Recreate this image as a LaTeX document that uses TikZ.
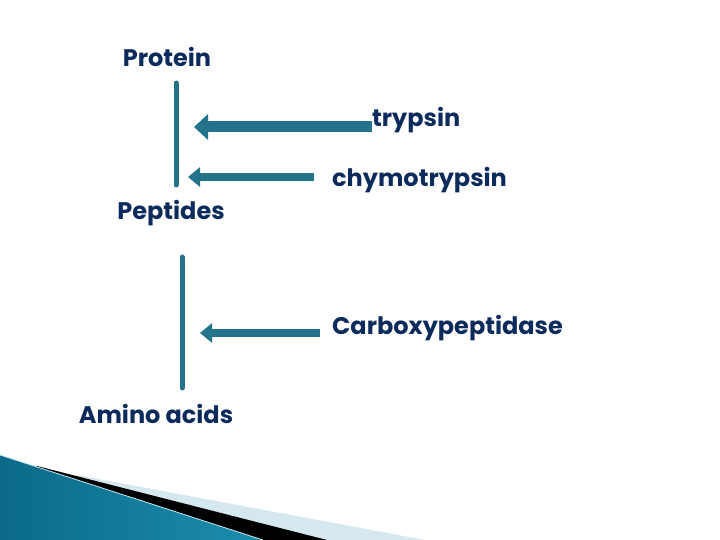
\documentclass[tikz,border=0pt]{standalone}
\usepackage{fontspec}
\setmainfont{Poppins}[Ligatures=NoCommon]
\usepackage{xcolor}
\usepackage{tikz}
\usetikzlibrary{arrows.meta}

\definecolor{textnavy}{HTML}{0C2A5C}
\definecolor{arrowteal}{HTML}{23738A}
\definecolor{bandblue}{HTML}{D6E8EF}
\definecolor{shadeleft}{HTML}{0B6A88}
\definecolor{shademid}{HTML}{45ADCD}
\definecolor{shaderight}{HTML}{1C8DAE}

\begin{document}
\begin{tikzpicture}[x=1pt,y=-1pt,
	word/.style={font=\fontsize{24}{28}\selectfont\bfseries,text=textnavy,inner sep=0pt},
	stem/.style={draw=arrowteal,line width=5pt,line cap=round},
	bigarrow/.style={draw=arrowteal,line width=11pt,-{Triangle[length=14pt,width=25pt]}},
	smallarrow/.style={draw=arrowteal,line width=8.5pt,-{Triangle[length=12pt,width=19pt]}}
	]
		\useasboundingbox (0,0) rectangle (720,540);
		% corner decoration
		\fill[bandblue] (77,475) -- (425,540) -- (0,540) -- cycle;
		\fill[black] (37,466) -- (327,540) -- (0,540) -- cycle;
		\shade[left color=shadeleft,middle color=shademid,right color=shaderight] (0,455) -- (263,540) -- (0,540) -- cycle;
		\draw[white!70!shademid,line width=0.8pt] (0,455) -- (263,540);
		%
		\node[word] (P) at (167,57) {Protein};
		\node[word] (Pep) at (171,213) {Peptides};
		\node[word] (AA) at (156,414) {Amino acids};
		\node[word,anchor=west] (T) at (372,120) {trypsin};
		\node[word,anchor=west] (Ch) at (332,180) {chymotrypsin};
		\node[word,anchor=west] (Cb) at (332,328) {Carboxypeptidase};
		%
		\coordinate (s1) at (176,83);
		\coordinate (s1') at (176,185);
		\coordinate (s2) at (182,257);
		\coordinate (s2') at (182,388);
		\coordinate (t) at (194,127);
		\coordinate (c) at (188,177);
		\coordinate (c') at (314,177);
		\coordinate (b) at (200,333);
		\coordinate (b') at (320,333);
		%
		\path
		% vertical lines
		(s1) edge[stem] (s1')
		(s2) edge[stem] (s2')
		% horizontal arrows
		(t -| T.west) edge[bigarrow] (t)
		(c') edge[smallarrow] (c)
		(b') edge[smallarrow] (b);
	\end{tikzpicture}
\end{document}
